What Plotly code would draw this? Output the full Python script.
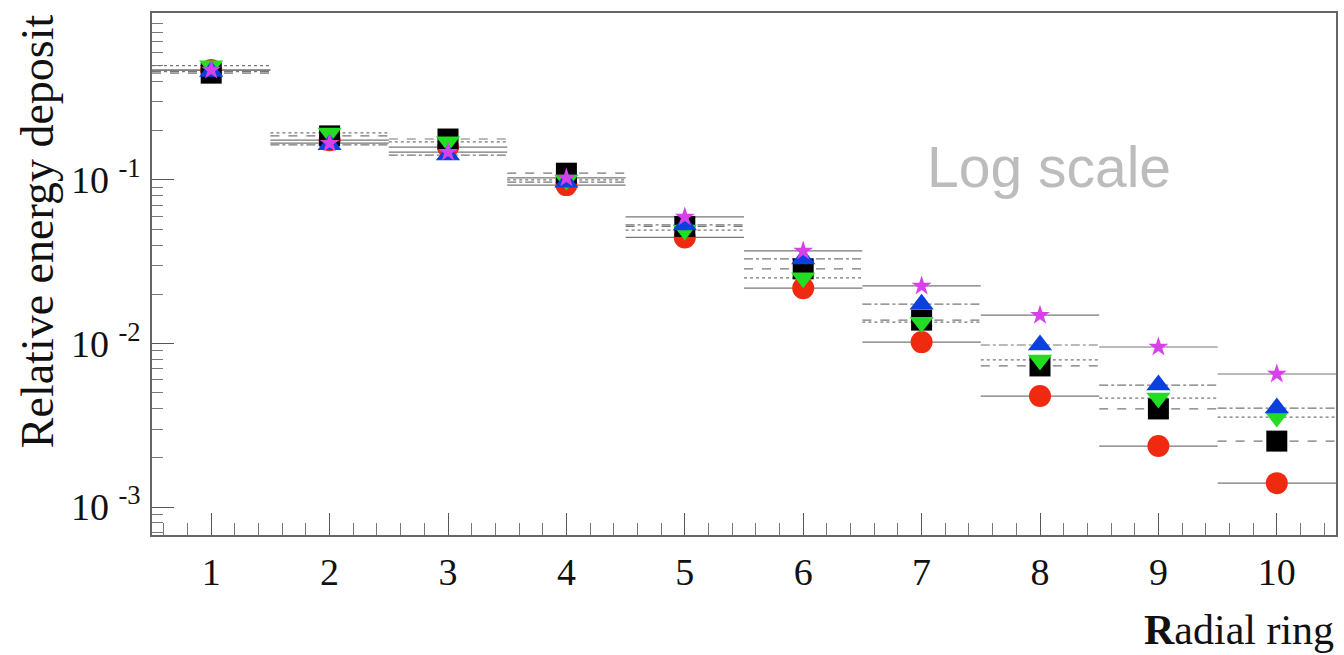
import plotly.graph_objects as go

# ---- data ----
rings = [1, 2, 3, 4, 5, 6, 7, 8, 9, 10]
red_circle   = [0.47, 0.175, 0.159, 0.093, 0.0445, 0.0218, 0.0102, 0.00477, 0.00236, 0.00140]
black_square = [0.45, 0.186, 0.178, 0.110, 0.0520, 0.0286, 0.0139, 0.00729, 0.00398, 0.00253]
green_down   = [0.50, 0.194, 0.171, 0.100, 0.0494, 0.0252, 0.0135, 0.00793, 0.00464, 0.00355]
blue_up      = [0.46, 0.164, 0.142, 0.097, 0.0531, 0.0329, 0.0174, 0.00979, 0.00557, 0.00403]
magenta_star = [0.47, 0.168, 0.148, 0.103, 0.0594, 0.0368, 0.0225, 0.0149, 0.00952, 0.00651]

x_ticks = [1, 2, 3, 4, 5, 6, 7, 8, 9, 10]
y_ticks = [1e-3, 1e-2, 1e-1]
y_ticktext = ["10&nbsp;<sup>-3</sup>", "10&nbsp;<sup>-2</sup>", "10&nbsp;<sup>-1</sup>"]
half_width = 0.5

series = [
    # name, values, symbol, color, size, line dash
    ("red", red_circle, "circle", "#f02a10", 22, "solid"),
    ("black", black_square, "square", "#000000", 21, "dash"),
    ("green", green_down, "triangle-down", "#22dd22", 21, "dot"),
    ("blue", blue_up, "triangle-up", "#0a40e0", 21, "dashdot"),
    ("magenta", magenta_star, "star", "#d840ea", 15, "solid"),
]

fig = go.Figure()

# bin-width lines
for name, vals, sym, col, size, dash in series:
    xs, ys = [], []
    for r, v in zip(rings, vals):
        xs += [r - half_width, r + half_width, None]
        ys += [v, v, None]
    fig.add_trace(go.Scatter(x=xs, y=ys, mode="lines",
                             line=dict(color="#777777", width=1.2, dash=dash),
                             hoverinfo="skip", showlegend=False))

# markers
for name, vals, sym, col, size, dash in series:
    fig.add_trace(go.Scatter(x=rings, y=vals, mode="markers", name=name,
                             marker=dict(symbol=sym, color=col, size=size,
                                         line=dict(width=0)),
                             showlegend=False))

minor_y = []
for e in range(-4, 1):
    for k in range(2, 10):
        minor_y.append(k * 10 ** e)

serif = "Liberation Serif"
fig.update_layout(
    width=1344, height=655,
    margin=dict(l=152, r=6, t=13, b=120),
    paper_bgcolor="white", plot_bgcolor="white",
    xaxis=dict(range=[0.5, 10.5], tickmode="array", tickvals=x_ticks,
               ticks="inside", ticklen=22, tickwidth=1.2, tickcolor="#555555",
               showline=True, linecolor="#666666", linewidth=1.5, mirror=True,
               showgrid=False, zeroline=False,
               tickfont=dict(family=serif, size=38, color="#111111"),
               ticklabelstandoff=3,
               minor=dict(dtick=0.2, ticks="inside", ticklen=12,
                          tickcolor="#777777", tickwidth=1, showgrid=False)),
    yaxis=dict(type="log", range=[-3.171, 0.021], tickmode="array",
               tickvals=y_ticks, ticktext=y_ticktext,
               ticks="inside", ticklen=22, tickwidth=1.2, tickcolor="#555555",
               showline=True, linecolor="#666666", linewidth=1.5, mirror=True,
               showgrid=False, zeroline=False,
               tickfont=dict(family=serif, size=38, color="#111111"),
               ticklabelstandoff=2,
               minor=dict(tickmode="array", tickvals=minor_y, ticks="inside",
                          ticklen=11, tickcolor="#777777", tickwidth=1,
                          showgrid=False)),
    annotations=[
        dict(text="Relative energy deposit", xref="paper", yref="paper",
             x=(37 - 152) / 1186, y=(535 - 12) / 522, xanchor="center", yanchor="top",
             textangle=-90, showarrow=False,
             font=dict(family=serif, size=46, color="#111111")),
        dict(text="<b>R</b>adial ring", xref="paper", yref="paper",
             x=1.0, y=(535 - 630) / 522, xanchor="right", yanchor="middle",
             showarrow=False, font=dict(family=serif, size=42, color="#111111")),
        dict(text="Log scale", xref="paper", yref="paper",
             x=(926 - 152) / 1186, y=(535 - 167) / 522, xanchor="left", yanchor="middle",
             showarrow=False, font=dict(family="Liberation Sans", size=57, color="#bcbcbc")),
    ],
)

fig.write_html("out.html")
